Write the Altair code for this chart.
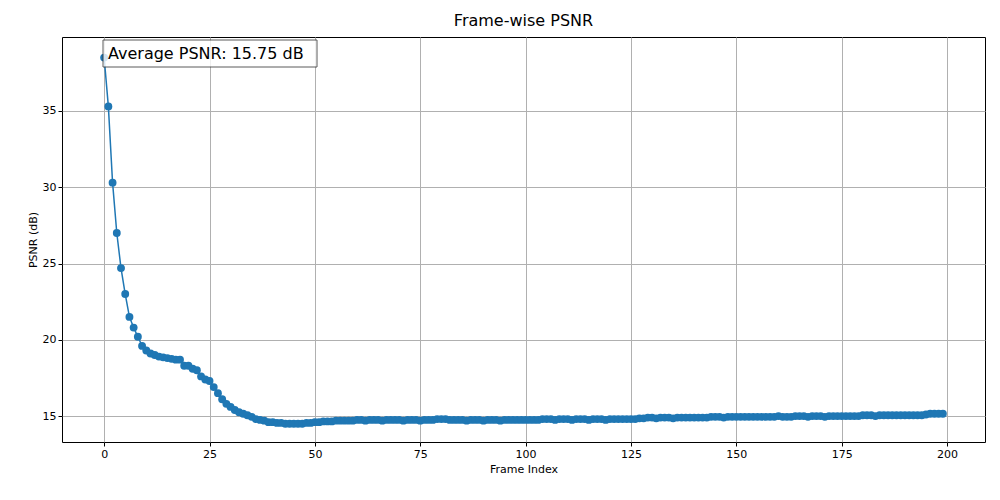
import altair as alt
import pandas as pd

psnr = [
    38.5, 35.3, 30.3, 27.0, 24.7, 23.0, 21.5, 20.8, 20.2, 19.6,
    19.3, 19.1, 19.0, 18.9, 18.85, 18.8, 18.75, 18.7, 18.7, 18.3,
    18.3, 18.1, 18.0, 17.6, 17.4, 17.3, 16.9, 16.5, 16.1, 15.8,
    15.6, 15.4, 15.25, 15.15, 15.05, 14.95, 14.8, 14.75, 14.7, 14.6,
    14.6, 14.55, 14.55, 14.5, 14.5, 14.5, 14.5, 14.5, 14.55, 14.55,
    14.6, 14.6, 14.65, 14.65, 14.65, 14.7, 14.7, 14.7, 14.7, 14.7,
    14.75, 14.75, 14.7, 14.75, 14.75, 14.75, 14.7, 14.75, 14.75, 14.75,
    14.75, 14.7, 14.75, 14.75, 14.75, 14.7, 14.75, 14.75, 14.75, 14.8,
    14.8, 14.8, 14.75, 14.75, 14.75, 14.75, 14.7, 14.75, 14.75, 14.75,
    14.7, 14.75, 14.75, 14.75, 14.7, 14.75, 14.75, 14.75, 14.75, 14.75,
    14.75, 14.75, 14.75, 14.75, 14.8, 14.8, 14.8, 14.75, 14.8, 14.8,
    14.8, 14.75, 14.8, 14.8, 14.8, 14.75, 14.8, 14.8, 14.8, 14.75,
    14.8, 14.8, 14.8, 14.8, 14.8, 14.8, 14.8, 14.85, 14.85, 14.9,
    14.9, 14.85, 14.9, 14.9, 14.9, 14.85, 14.9, 14.9, 14.9, 14.9,
    14.9, 14.9, 14.9, 14.9, 14.95, 14.95, 14.95, 14.9, 14.95, 14.95,
    14.95, 14.95, 14.95, 14.95, 14.95, 14.95, 14.95, 14.95, 14.95, 14.95,
    15.0, 14.95, 14.95, 14.95, 15.0, 15.0, 15.0, 14.95, 15.0, 15.0,
    15.0, 14.95, 15.0, 15.0, 15.0, 15.0, 15.0, 15.0, 15.0, 15.0,
    15.05, 15.05, 15.05, 15.0, 15.05, 15.05, 15.05, 15.05, 15.05, 15.05,
    15.05, 15.05, 15.05, 15.05, 15.05, 15.1, 15.15, 15.15, 15.15, 15.15,
]
frames = list(range(len(psnr)))
avg_label = "Average PSNR: 15.75 dB"

df = pd.DataFrame({"frame": frames, "psnr": psnr})
blue = "#1f77b4"

x = alt.X("frame:Q", title="Frame Index",
          scale=alt.Scale(domain=[-10, 209], nice=False, zero=False),
          axis=alt.Axis(values=[0, 25, 50, 75, 100, 125, 150, 175, 200]))
y = alt.Y("psnr:Q", title="PSNR (dB)",
          scale=alt.Scale(domain=[13.3, 39.85], nice=False, zero=False),
          axis=alt.Axis(values=[15, 20, 25, 30, 35]))

base = alt.Chart(df)
line = base.mark_line(color=blue, strokeWidth=1.5).encode(x=x, y=y)
pts = base.mark_circle(color=blue, size=62, opacity=1).encode(x=x, y=y)

note_df = pd.DataFrame({"t": [avg_label]})
box = alt.Chart(note_df).mark_rect(fill="white", stroke="#333", strokeWidth=1, opacity=0.8).encode(
    x=alt.value(41), x2=alt.value(255), y=alt.value(3), y2=alt.value(30))
txt = alt.Chart(note_df).mark_text(align="left", baseline="middle", fontSize=16,
                                   font="DejaVu Sans", color="black").encode(
    x=alt.value(46), y=alt.value(16.5), text="t:N")

chart = (line + pts + box + txt).properties(
    width=923, height=405,
    title=alt.TitleParams("Frame-wise PSNR", fontSize=16, fontWeight="normal",
                          font="DejaVu Sans", offset=8),
    autosize=alt.AutoSizeParams(type="none"),
    padding={"left": 54, "top": 29, "right": 7, "bottom": 50},
).configure_view(stroke="black", strokeWidth=1).configure_axis(
    grid=True, gridColor="#b0b0b0", gridWidth=1, domain=False,
    tickColor="black", tickSize=4, labelFont="DejaVu Sans", labelFontSize=11,
    labelColor="black", titleFont="DejaVu Sans", titleFontSize=11,
    titleFontWeight="normal", titleColor="black",
)

chart.save("out.html", embed_options={"renderer": "svg", "actions": False})
